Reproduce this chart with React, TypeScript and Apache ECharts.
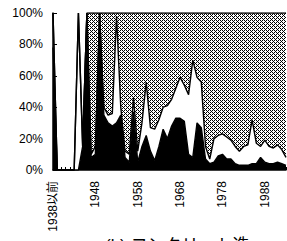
import React, { useEffect, useRef } from "react";
import * as echarts from "echarts";

const categories = [
  "1938以前", "1939", "1940", "1941", "1942", "1943", "1944", "1945", "1946", "1947",
  "1948", "1949", "1950", "1951", "1952", "1953", "1954", "1955", "1956", "1957",
  "1958", "1959", "1960", "1961", "1962", "1963", "1964", "1965", "1966", "1967",
  "1968", "1969", "1970", "1971", "1972", "1973", "1974", "1975", "1976", "1977",
  "1978", "1979", "1980", "1981", "1982", "1983", "1984", "1985", "1986", "1987",
  "1988", "1989", "1990", "1991", "1992", "1993",
];

const blackShare = [
  78, 0, 0, 0, 0, 0, 0, 15, 100, 8,
  10, 100, 35, 30, 28, 30, 35, 8, 5, 37,
  5, 15, 22, 12, 6, 15, 26, 20, 28, 33,
  33, 31, 10, 8, 30, 27, 7, 4, 5, 9,
  10, 7, 7, 4, 3, 3, 3, 4, 4, 8,
  5, 4, 4, 5, 4, 3,
];

const whiteShare = [
  22, 0, 0, 0, 0, 0, 100, 0, 0, 2,
  5, 0, 5, 5, 8, 68, 5, 4, 5, 9,
  7, 15, 34, 15, 20, 17, 14, 21, 17, 19,
  26, 23, 38, 62, 29, 29, 8, 3, 15, 13,
  13, 14, 12, 11, 9, 12, 13, 28, 13, 7,
  14, 11, 10, 11, 9, 5,
];

const grayShare = [
  0, 0, 0, 0, 0, 0, 0, 0, 0, 90,
  85, 0, 60, 65, 64, 2, 60, 88, 90, 54,
  88, 70, 44, 73, 74, 68, 60, 59, 55, 48,
  41, 46, 52, 30, 41, 44, 85, 93, 80, 78,
  77, 79, 81, 85, 88, 85, 84, 68, 83, 85,
  81, 85, 86, 84, 87, 92,
];

const yTicks = ["0%", "20%", "40%", "60%", "80%", "100%"];

const FONT = "'Liberation Sans', Arial, 'Noto Sans CJK JP', sans-serif";

function makePattern(): HTMLCanvasElement {
  const c = document.createElement("canvas");
  c.width = 4;
  c.height = 4;
  const ctx = c.getContext("2d")!;
  ctx.fillStyle = "#ffffff";
  ctx.fillRect(0, 0, 4, 4);
  ctx.fillStyle = "#000000";
  const dots = [
    [0, 0], [2, 0], [1, 1], [0, 2], [2, 2], [3, 3],
  ];
  dots.forEach(([x, y]) => ctx.fillRect(x, y, 1, 1));
  return c;
}

export default function App() {
  const ref = useRef<HTMLDivElement>(null);
  useEffect(() => {
    if (!ref.current) return;
    const chart = echarts.init(ref.current, undefined, { renderer: "svg" });
    const pattern: any = {
      image: makePattern(),
      repeat: "repeat",
      imageWidth: 4,
      imageHeight: 4,
    };
    const lineStyle = { color: "#000", width: 1.4 };
    chart.setOption({
      animation: false,
      backgroundColor: "#fff",
      grid: { left: 53, top: 13, right: 1, bottom: 71, containLabel: false },
      title: {
        text: "(b) コンクリート造",
        left: 100,
        top: 232,
        textStyle: { fontFamily: FONT, fontSize: 17, fontWeight: "normal", color: "#000" },
      },
      xAxis: {
        type: "category",
        data: categories,
        boundaryGap: false,
        axisLine: { show: true, lineStyle: { color: "#000", width: 1.5 } },
        axisTick: { show: true, inside: true, length: 3, interval: 0, lineStyle: { color: "#000" } },
        axisLabel: {
          interval: 9,
          rotate: 90,
          margin: 11,
          fontSize: 12,
          fontFamily: FONT,
          color: "#000",
        },
        splitLine: { show: false },
      },
      yAxis: {
        type: "value",
        min: 0,
        max: 100,
        interval: 20,
        axisLine: { show: true, lineStyle: { color: "#000", width: 1.5 } },
        axisTick: { show: true, inside: true, length: 4, lineStyle: { color: "#000" } },
        axisLabel: {
          margin: 10,
          fontSize: 12,
          fontFamily: FONT,
          color: "#000",
          formatter: (v: number) => yTicks[Math.round(v / 20)],
        },
        splitLine: { show: false },
      },
      series: [
        {
          name: "black",
          type: "line",
          stack: "total",
          data: blackShare,
          symbol: "none",
          lineStyle,
          itemStyle: { color: "#000" },
          areaStyle: { color: "#000", opacity: 1 },
        },
        {
          name: "white",
          type: "line",
          stack: "total",
          data: whiteShare,
          symbol: "none",
          lineStyle,
          itemStyle: { color: "#000" },
          areaStyle: { color: "#fff", opacity: 1 },
        },
        {
          name: "gray",
          type: "line",
          stack: "total",
          data: grayShare,
          symbol: "none",
          lineStyle,
          itemStyle: { color: "#000" },
          areaStyle: { color: pattern, opacity: 1 },
        },
      ],
    });
    return () => chart.dispose();
  }, []);
  return <div ref={ref} style={{ width: 287, height: 241, position: "absolute", left: 0, top: 0 }} />;
}
